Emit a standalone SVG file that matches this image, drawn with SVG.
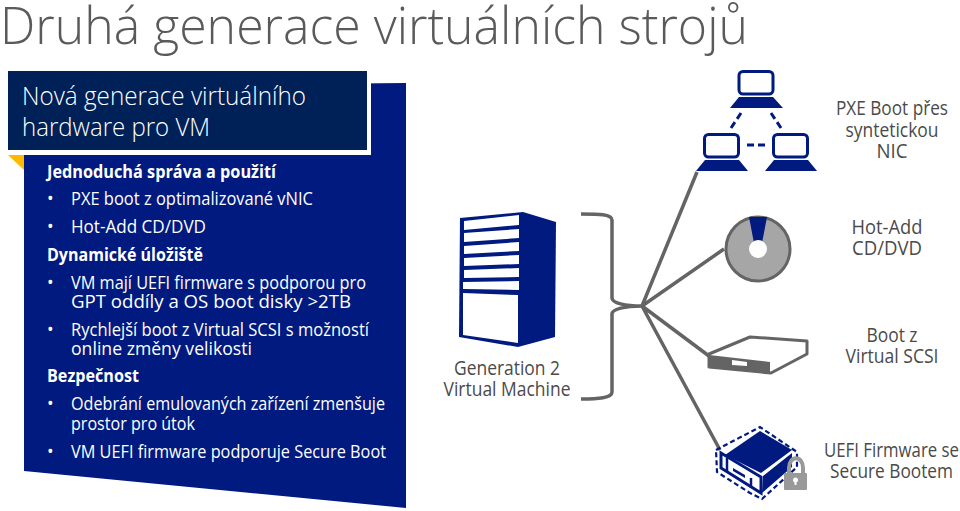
<svg xmlns="http://www.w3.org/2000/svg" width="960" height="511" viewBox="0 0 960 511">
<style>
text{font-family:"Open Sans","Noto Sans","Liberation Sans",sans-serif}
.t{fill:#5a5a5a;font-weight:300;font-size:51px}
.h{fill:#fff;font-weight:300;font-size:26px}
.b{fill:#fff;font-size:17.5px}
.s{fill:#fff;font-size:17px;font-weight:700}
.l{fill:#4a4a4a;font-size:20px;text-anchor:middle}
.c{fill:none;stroke:#646464;stroke-width:3.5;stroke-linejoin:round}
.n{fill:#001a80}
.k{fill:none;stroke:#001a80;stroke-width:3}
.d{fill:none;stroke:#001a80;stroke-width:3;stroke-dasharray:7 4}
.e{fill:none;stroke:#001a80;stroke-width:2.2;stroke-dasharray:5 3}
</style>
<rect width="960" height="511" fill="#fff"/>
<text class="t" x="0" y="44" textLength="748" lengthAdjust="spacingAndGlyphs">Druhá generace virtuálních strojů</text>
<g id="panel">
<polygon points="24,87 406,83 406,508 24,471" fill="#001a80"/>
<polygon points="8,155 24,155 24,170" fill="#ffb900"/>
<rect x="8" y="71" width="363" height="84" fill="#fff"/>
<rect x="8" y="71" width="359" height="79" fill="#002157"/>
<text class="h" x="22" y="105" textLength="284" lengthAdjust="spacingAndGlyphs">Nová generace virtuálního</text>
<text class="h" x="22" y="136" textLength="188" lengthAdjust="spacingAndGlyphs">hardware pro VM</text>
<text class="s" x="47" y="178" textLength="229" lengthAdjust="spacingAndGlyphs">Jednoduchá správa a použití</text>
<text class="b" x="47" y="205">•</text><text class="b" x="71" y="205" textLength="242" lengthAdjust="spacingAndGlyphs">PXE boot z optimalizované vNIC</text>
<text class="b" x="47" y="233">•</text><text class="b" x="71" y="233" textLength="135" lengthAdjust="spacingAndGlyphs">Hot-Add CD/DVD</text>
<text class="s" x="47" y="261" textLength="156" lengthAdjust="spacingAndGlyphs">Dynamické úložiště</text>
<text class="b" x="47" y="289">•</text><text class="b" x="71" y="289" textLength="295" lengthAdjust="spacingAndGlyphs">VM mají UEFI firmware s podporou pro</text>
<text class="b" x="71" y="308" textLength="280" lengthAdjust="spacingAndGlyphs">GPT oddíly a OS boot disky &gt;2TB</text>
<text class="b" x="47" y="336">•</text><text class="b" x="71" y="336" textLength="298" lengthAdjust="spacingAndGlyphs">Rychlejší boot z Virtual SCSI s možností</text>
<text class="b" x="71" y="355" textLength="181" lengthAdjust="spacingAndGlyphs">online změny velikosti</text>
<text class="s" x="47" y="382" textLength="92" lengthAdjust="spacingAndGlyphs">Bezpečnost</text>
<text class="b" x="47" y="410">•</text><text class="b" x="71" y="410" textLength="314" lengthAdjust="spacingAndGlyphs">Odebrání emulovaných zařízení zmenšuje</text>
<text class="b" x="71" y="430" textLength="124" lengthAdjust="spacingAndGlyphs">prostor pro útok</text>
<text class="b" x="47" y="458">•</text><text class="b" x="71" y="458" textLength="315" lengthAdjust="spacingAndGlyphs">VM UEFI firmware podporuje Secure Boot</text>
</g>
<g id="connectors">
<path class="c" d="M581,214C598,214 612,214 612,220V298C612,303 625,306 642,306C625,306 612,309 612,314V392C612,398 598,399 581,399"/>
<path class="c" d="M697,172L642,306L724,249M642,306L709,356M642,306L720,450"/>
</g>
<g id="server">
<polygon class="n" points="523,212 556,222 555,337 518,347 459,337 460,218"/>
<g fill="#fff">
<polygon points="464,221 519,215 519,225 464,230"/>
<polygon points="464,233 519,229 519,238 464,242"/>
<polygon points="464,246 519,242 519,251 464,254"/>
<polygon points="464,258 519,255 519,264 464,266"/>
<polygon points="464,270 519,268 519,277 464,278"/>
<polygon points="463,282 519,281 519,290 463,289"/>
<polygon points="463,293 518,295 518,343 463,335"/>
</g>
<text class="l" x="507" y="375" textLength="106" lengthAdjust="spacingAndGlyphs">Generation 2</text>
<text class="l" x="507" y="396" textLength="127" lengthAdjust="spacingAndGlyphs">Virtual Machine</text>
</g>
<g id="pxe">
<rect class="k" x="739" y="71.500" width="34" height="22.500" rx="4"/>
<polygon class="n" points="730,108 739,97 773,97 783,108"/>
<rect class="k" x="704.500" y="134.500" width="34" height="22.500" rx="4"/>
<polygon class="n" points="696,171 705,160 739,160 748,171"/>
<rect class="k" x="773.500" y="134.500" width="34" height="22.500" rx="4"/>
<polygon class="n" points="765,171 774,160 808,160 817,171"/>
<path class="d" d="M741,113L731,128M771,113L781,128M747,145H767"/>
<text class="l" x="892" y="115" textLength="112" lengthAdjust="spacingAndGlyphs">PXE Boot přes</text>
<text class="l" x="892" y="137" textLength="93" lengthAdjust="spacingAndGlyphs">syntetickou</text>
<text class="l" x="892" y="158" textLength="31" lengthAdjust="spacingAndGlyphs">NIC</text>
</g>
<g id="hotadd">
<circle cx="758" cy="249" r="32" fill="#a6a6a6" stroke="#646464" stroke-width="3"/>
<polygon class="n" points="749,217 767,217 762,243 754,243"/>
<circle cx="758" cy="249" r="9" fill="#fff"/>
<text class="l" x="887" y="234" textLength="71" lengthAdjust="spacingAndGlyphs">Hot-Add</text>
<text class="l" x="887" y="255" textLength="70" lengthAdjust="spacingAndGlyphs">CD/DVD</text>
</g>
<g id="scsi">
<polygon points="709,354 750,337 807,341 807,354 771,373 709,367" fill="#fff" stroke="#646464" stroke-width="3" stroke-linejoin="round"/>
<polygon points="709,355 770,362 770,373 709,367" fill="#646464"/>
<polygon points="732,360 747,362 747,366 732,365" fill="#fff"/>
<text class="l" x="892" y="342" textLength="51" lengthAdjust="spacingAndGlyphs">Boot z</text>
<text class="l" x="892" y="363" textLength="93" lengthAdjust="spacingAndGlyphs">Virtual SCSI</text>
</g>
<g id="uefi">
<path class="e" d="M716,450L760,427L797,452V467L762,499L750,493L717,472Z"/>
<polygon class="n" points="725,455 760,431 792,450 761,473"/>
<polygon class="n" points="763,476 792,453 792,467 762,493"/>
<polygon points="721,453 761,477 761,493 721,468" fill="#fff" stroke="#001a80" stroke-width="3"/>
<polygon class="n" points="733,468 745,475 745,478 733,471"/>
<path d="M727,458V472M751,478V488" stroke="#001a80" stroke-width="2.500"/>
<g id="lock">
<path d="M789,473V468C789,455 803,455 803,468V473" fill="none" stroke="#999" stroke-width="4"/>
<rect x="784" y="473" width="23" height="17" rx="1" fill="#999"/>
<circle cx="795.500" cy="480" r="2.500" fill="#fff"/>
<rect x="794.500" y="480" width="2" height="5" fill="#fff"/>
</g>
<text class="l" x="891.500" y="457" textLength="135" lengthAdjust="spacingAndGlyphs">UEFI Firmware se</text>
<text class="l" x="891.500" y="478" textLength="123" lengthAdjust="spacingAndGlyphs">Secure Bootem</text>
</g>
</svg>
